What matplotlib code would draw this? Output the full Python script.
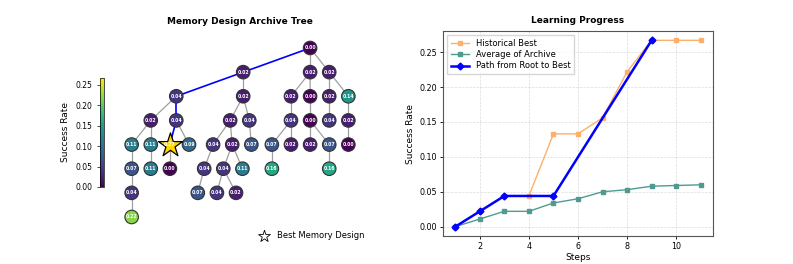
import matplotlib
matplotlib.use("Agg")
import matplotlib.pyplot as plt
import numpy as np

# --- archive tree: parent index and success rate of each node ---
parents = [-1, 0, 0, 0, 1, 1, 2, 2, 3, 3,
           4, 4, 5, 5, 6, 7, 8, 9, 10, 10,
           11, 11, 12, 12, 13, 14, 14, 15, 15, 17,
           18, 19, 20, 22, 23, 23, 25, 28, 30, 33,
           34, 34, 38]
node_rates = [0.00, 0.02, 0.02, 0.02, 0.04, 0.02, 0.02, 0.00, 0.02, 0.14,
              0.02, 0.04, 0.02, 0.04, 0.04, 0.00, 0.04, 0.02, 0.11, 0.11,
              0.267, 0.09, 0.04, 0.02, 0.07, 0.07, 0.02, 0.02, 0.07, 0.00,
              0.07, 0.11, 0.00, 0.04, 0.04, 0.11, 0.16, 0.16, 0.04, 0.07,
              0.04, 0.02, 0.22]

# --- learning progress ---
steps = [1, 2, 3, 4, 5, 6, 7, 8, 9, 10, 11]
hist_best = [0.0, 0.022, 0.044, 0.044, 0.133, 0.133, 0.156, 0.222, 0.267, 0.267, 0.267]
avg_archive = [0.0, 0.011, 0.022, 0.022, 0.034, 0.040, 0.050, 0.053, 0.058, 0.059, 0.060]
path_steps = [1, 2, 3, 5, 9]
path_rates = [0.0, 0.022, 0.044, 0.044, 0.267]

n = len(parents)
children = {i: [] for i in range(n)}
for i, p in enumerate(parents):
    if p >= 0:
        children[p].append(i)


# simple tidy tree layout (contour based), used as a start
def place(node):
    if not children[node]:
        return {node: 0.0}, [0.0], [0.0]
    pos, lc, rc, xs = {}, [], [], []
    for c in children[node]:
        p, l, r = place(c)
        if rc:
            k = min(len(rc), len(l))
            shift = max(rc[d] - l[d] + 1 for d in range(k))
        else:
            shift = 0.0
        p = {key: v + shift for key, v in p.items()}
        l = [v + shift for v in l]
        r = [v + shift for v in r]
        for d in range(len(l)):
            if d < len(lc):
                lc[d] = min(lc[d], l[d])
                rc[d] = max(rc[d], r[d])
            else:
                lc.append(l[d])
                rc.append(r[d])
        pos.update(p)
        xs.append(p[c])
    x = (xs[0] + xs[-1]) / 2
    pos[node] = x
    return pos, [x] + lc, [x] + rc


def pava(v):
    # nondecreasing least squares fit
    blocks = []
    for val in v:
        blocks.append([val, 1])
        while len(blocks) > 1 and blocks[-2][0] > blocks[-1][0]:
            a, b = blocks.pop(), blocks.pop()
            w = a[1] + b[1]
            blocks.append([(a[0] * a[1] + b[0] * b[1]) / w, w])
    out = []
    for val, w in blocks:
        out += [val] * w
    return out


pos, _, _ = place(0)
depth = [0] * n
for i in range(n):
    d, j = 0, i
    while parents[j] >= 0:
        j = parents[j]
        d += 1
    depth[i] = d
x = np.array([pos[i] for i in range(n)])
ranks = [sorted([i for i in range(n) if depth[i] == d], key=lambda i: x[i])
         for d in range(max(depth) + 1)]

# dot-like refinement: pull nodes towards their neighbours, keep order and spacing
order = list(range(len(ranks))) + list(range(len(ranks) - 1, -1, -1))
for it in range(40):
    for d in order:
        r = ranks[d]
        want = []
        for i in r:
            nb = list(children[i]) + ([parents[i]] if parents[i] >= 0 else [])
            want.append(np.median(x[nb]) if nb else x[i])
        z = pava([w - k for k, w in enumerate(want)])
        for k, i in enumerate(r):
            x[i] = z[k] + k

xs = x - x.min()
span = xs.max()
ys = -np.array(depth, dtype=float)

best = int(np.argmax(node_rates))
path = [best]
while parents[path[-1]] >= 0:
    path.append(parents[path[-1]])
path_edges = set(zip(path[1:], path[:-1]))

fig = plt.figure(figsize=(7.93, 2.64), dpi=100)
ax = fig.add_axes([110 / 793, 19 / 264, 260 / 793, 215 / 264])
cmap = plt.cm.viridis
norm = plt.Normalize(min(node_rates), max(node_rates))

for i, p in enumerate(parents):
    if p < 0:
        continue
    on_path = (p, i) in path_edges
    ax.plot([xs[p], xs[i]], [ys[p], ys[i]],
            color='blue' if on_path else '#a0a0a0',
            lw=1.2 if on_path else 0.9, zorder=1)

others = [i for i in range(n) if i != best]
ax.scatter(xs[others], ys[others], s=95, c=[node_rates[i] for i in others],
           cmap=cmap, norm=norm, edgecolors='#333333', linewidths=0.8, zorder=2)
ax.scatter(xs[best], ys[best], s=330, marker='*', color='gold',
           edgecolors='black', linewidths=0.9, zorder=3)
for i in range(n):
    ax.text(xs[i], ys[i], f'{node_rates[i]:.2f}', ha='center', va='center',
            fontsize=3.3, color='white', fontweight='bold', zorder=4)

ax.scatter([], [], s=80, marker='*', color='white', edgecolors='black',
           linewidths=0.6, label='Best Memory Design')
ax.legend(loc='lower right', frameon=False, fontsize=6, handletextpad=0.6,
          borderaxespad=0.2)
unit = max(span, 11) / 11
mid = span / 2
ax.set_xlim(mid - 130 / 19.7 * unit, mid + 130 / 19.7 * unit)
ax.set_ylim(-8.16, 0.745)
ax.axis('off')
ax.set_title('Memory Design Archive Tree', fontsize=6.5, fontweight='bold', pad=4.5)

cax = fig.add_axes([100 / 793, 77 / 264, 4 / 793, 109 / 264])
sm = plt.cm.ScalarMappable(norm=norm, cmap=cmap)
cb = fig.colorbar(sm, cax=cax)
cax.yaxis.set_ticks_position('left')
cax.yaxis.set_label_position('left')
cb.set_label('Success Rate', fontsize=6.5)
cax.tick_params(labelsize=5.5, length=2, width=0.5)
cb.outline.set_linewidth(0.5)

# right: learning progress
ax2 = fig.add_axes([443 / 793, 28 / 264, 270 / 793, 205 / 264])
ax2.plot(steps, hist_best, marker='s', ms=2.8, lw=1, color='#fdb06a',
         label='Historical Best')
ax2.plot(steps, avg_archive, marker='s', ms=2.8, lw=1, color='#4f9b92',
         label='Average of Archive')
ax2.plot(path_steps, path_rates, marker='D', ms=3.5, lw=1.8, color='blue',
         label='Path from Root to Best')
ax2.grid(True, ls='--', lw=0.5, alpha=0.45)
ax2.set_title('Learning Progress', fontsize=6.5, fontweight='bold', pad=6)
ax2.set_xlabel('Steps', fontsize=6.5, labelpad=1)
ax2.set_ylabel('Success Rate', fontsize=6.5, labelpad=3)
ax2.tick_params(labelsize=5.8, length=2.5, width=0.6, pad=2)
for s in ax2.spines.values():
    s.set_linewidth(0.8)
    s.set_color('#555555')
ax2.legend(loc='upper left', fontsize=6, handlelength=2.2, borderpad=0.4,
           labelspacing=0.3, fancybox=False)

fig.savefig('out.png', dpi=100)
